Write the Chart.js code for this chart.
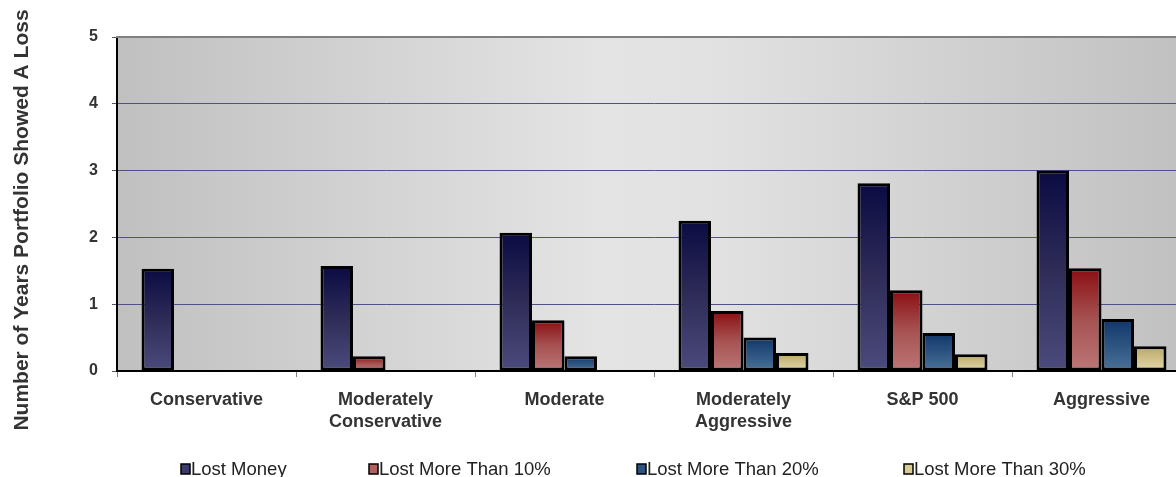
<!DOCTYPE html>
<html>
<head>
<meta charset="utf-8">
<script src="https://cdn.jsdelivr.net/npm/chart.js@4/dist/chart.umd.min.js"></script>
<style>
  html, body { margin: 0; padding: 0; background: #ffffff; overflow: hidden; }
  #wrap { width: 1176px; height: 477px; overflow: hidden; }
  canvas { display: block; }
</style>
</head>
<body>
<div id="wrap"><canvas id="c" width="1192" height="477"></canvas></div>
<script>
// Portfolio categories along the x axis
const categories = [
  'Conservative',
  ['Moderately', 'Conservative'],
  'Moderate',
  ['Moderately', 'Aggressive'],
  'S&P 500',
  'Aggressive'
];

// Number of years each portfolio showed a loss
const lostMoney   = [1.53, 1.57, 2.07, 2.25, 2.81, 3.00];
const lost10      = [null, 0.22, 0.76, 0.90, 1.21, 1.54];
const lost20      = [null, null, 0.22, 0.50, 0.57, 0.78];
const lost30      = [null, null, null, 0.27, 0.25, 0.37];

const seriesNames = ['Lost Money', 'Lost More Than 10%', 'Lost More Than 20%', 'Lost More Than 30%'];

// y axis ticks
const yMin = 0, yMax = 5, yStep = 1;

// vertical shading for each series: top colour -> bottom colour
const shades = [
  { stops: ['#0b0b43', '#2f2c58', '#4b4b7c'], swatch: '#3c3c6c' },
  { stops: ['#8a0e12', '#a65252', '#bc7676'], swatch: '#b06262' },
  { stops: ['#10366a', '#2d5480', '#4a7298'], swatch: '#2c5482' },
  { stops: ['#b8a664', '#cfc08a', '#e3d8a8'], swatch: '#d9cb92' }
];

function barFill(ctx, idx) {
  const chart = ctx.chart;
  const y = chart.scales.y;
  if (!chart.chartArea || !y || ctx.parsed == null) return shades[idx].swatch;
  const v = ctx.parsed.y;
  if (v == null) return shades[idx].swatch;
  const top = y.getPixelForValue(v);
  const base = y.getPixelForValue(0);
  if (!(base - top > 0.5)) return shades[idx].stops[2];
  const g = chart.ctx.createLinearGradient(0, top, 0, base);
  g.addColorStop(0, shades[idx].stops[0]);
  g.addColorStop(0.5, shades[idx].stops[1]);
  g.addColorStop(1, shades[idx].stops[2]);
  return g;
}

const values = [lostMoney, lost10, lost20, lost30];
const datasets = values.map((data, i) => ({
  label: seriesNames[i],
  data: data,
  backgroundColor: (ctx) => barFill(ctx, i),
  borderColor: '#000000',
  borderWidth: 3,
  borderSkipped: false,
  categoryPercentage: 0.726,
  barPercentage: 1.0
}));

// plot background: grey at the edges, lighter in the middle
const plotBackground = {
  id: 'plotBackground',
  beforeDraw(chart) {
    const { ctx, chartArea: a } = chart;
    const g = ctx.createLinearGradient(a.left, 0, a.right, 0);
    g.addColorStop(0, '#c0c0c0');
    g.addColorStop(0.45, '#e4e4e4');
    g.addColorStop(0.55, '#e2e2e2');
    g.addColorStop(1, '#c0c0c0');
    ctx.save();
    ctx.fillStyle = g;
    ctx.fillRect(a.left, a.top, a.right - a.left, a.bottom - a.top);
    ctx.restore();
  },
  afterDraw(chart) {
    const { ctx, chartArea: a } = chart;
    ctx.save();
    // top frame line
    ctx.strokeStyle = '#808080';
    ctx.lineWidth = 2;
    ctx.beginPath();
    ctx.moveTo(a.left - 1, a.top);
    ctx.lineTo(a.right, a.top);
    ctx.stroke();

    // rotated axis title
    ctx.fillStyle = '#333333';
    ctx.font = 'bold 21px "Liberation Sans", Arial, sans-serif';
    ctx.textAlign = 'center';
    ctx.textBaseline = 'alphabetic';
    ctx.translate(28, 220);
    ctx.rotate(-Math.PI / 2);
    ctx.fillText('Number of Years Portfolio Showed A Loss', 0, 0);
    ctx.restore();
  }
};

// legend row along the bottom
const legendRow = {
  id: 'legendRow',
  afterDraw(chart) {
    const { ctx } = chart;
    const starts = [181, 369, 637, 904];
    ctx.save();
    ctx.font = '18.5px "Liberation Sans", Arial, sans-serif';
    ctx.textAlign = 'left';
    ctx.textBaseline = 'alphabetic';
    chart.data.datasets.forEach((ds, i) => {
      const x = starts[i];
      ctx.fillStyle = shades[i].swatch;
      ctx.fillRect(x, 464, 9, 10);
      ctx.strokeStyle = '#000000';
      ctx.lineWidth = 1.5;
      ctx.strokeRect(x, 464, 9, 10);
      ctx.fillStyle = '#222222';
      ctx.fillText(ds.label, x + 10, 475);
    });
    ctx.restore();
  }
};

new Chart(document.getElementById('c'), {
  type: 'bar',
  data: { labels: categories, datasets: datasets },
  options: {
    responsive: false,
    animation: false,
    layout: { padding: { top: 37, right: 1, bottom: 46, left: 0 } },
    plugins: {
      legend: { display: false },
      tooltip: { enabled: false }
    },
    scales: {
      x: {
        offset: true,
        afterFit(scale) { scale.height = 60; },
        border: { display: true, color: '#000000', width: 2 },
        grid: {
          offset: true,
          drawOnChartArea: false,
          drawTicks: true,
          tickLength: 6,
          tickColor: '#808080',
          tickWidth: 1
        },
        ticks: {
          color: '#333333',
          padding: 13,
          font: { family: '"Liberation Sans", Arial, sans-serif', size: 18, weight: 'bold', lineHeight: 1.17 },
          maxRotation: 0,
          autoSkip: false
        }
      },
      y: {
        min: yMin,
        max: yMax,
        afterFit(scale) { scale.width = 117; },
        border: { display: true, color: '#000000', width: 2 },
        grid: {
          color: (c) => (c.tick && (c.tick.value === yMax || c.tick.value === yMin)) ? 'rgba(0,0,0,0)' : '#50508a',
          lineWidth: 1,
          borderDash: [2, 2],
          drawTicks: true,
          tickLength: 5,
          tickColor: '#555555',
          tickBorderDash: []
        },
        ticks: {
          stepSize: yStep,
          color: '#333333',
          padding: 14,
          font: { family: '"Liberation Sans", Arial, sans-serif', size: 16, weight: 'bold' }
        }
      }
    }
  },
  plugins: [plotBackground, legendRow]
});
</script>
</body>
</html>
